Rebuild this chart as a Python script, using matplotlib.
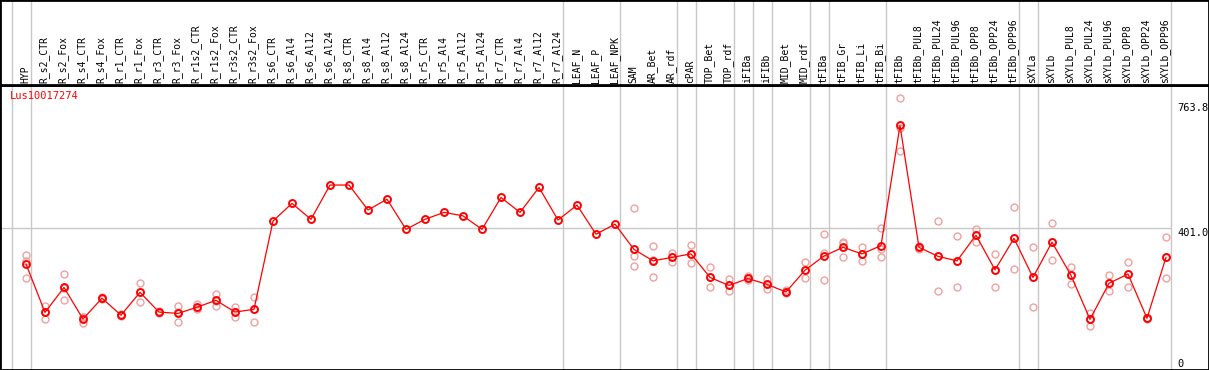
import numpy as np
import matplotlib
matplotlib.use("Agg")
import matplotlib.pyplot as plt

nan = np.nan

samples = ["HYP", "R_s2_CTR", "R_s2_Fox", "R_s4_CTR", "R_s4_Fox", "R_r1_CTR", "R_r1_Fox",
           "R_r3_CTR", "R_r3_Fox", "R_r1s2_CTR", "R_r1s2_Fox", "R_r3s2_CTR", "R_r3s2_Fox",
           "R_s6_CTR", "R_s6_Al4", "R_s6_Al12", "R_s6_Al24", "R_s8_CTR", "R_s8_Al4",
           "R_s8_Al12", "R_s8_Al24", "R_r5_CTR", "R_r5_Al4", "R_r5_Al12", "R_r5_Al24",
           "R_r7_CTR", "R_r7_Al4", "R_r7_Al12", "R_r7_Al24", "LEAF_N", "LEAF_P", "LEAF_NPK",
           "SAM", "AR_Bet", "AR_rdf", "cPAR", "TOP_Bet", "TOP_rdf", "iFIBa", "iFIBb",
           "MID_Bet", "MID_rdf", "tFIBa", "tFIB_Gr", "tFIB_Li", "tFIB_Bi", "tFIBb",
           "tFIBb_PUL8", "tFIBb_PUL24", "tFIBb_PUL96", "tFIBb_OPP8", "tFIBb_OPP24",
           "tFIBb_OPP96", "sXYLa", "sXYLb", "sXYLb_PUL8", "sXYLb_PUL24", "sXYLb_PUL96",
           "sXYLb_OPP8", "sXYLb_OPP24", "sXYLb_OPP96"]

mean = [298, 158, 230, 139, 199, 150, 216, 159, 155, 173, 193, 159, 167,
        422, 473, 427, 526, 526, 454, 485, 398, 427, 447, 437, 398, 490, 447, 519, 425,
        468, 384, 413,
        340, 307, 317, 327, 259, 236, 256, 239, 217, 280, 321, 346, 327, 351, 698,
        346, 320, 307, 381, 281, 372, 259, 361, 265, 138, 242, 269, 141, 317]

rep_a = [324, 176, 268, 145, 202, 153, 242, 161, 176, 181, 210, 175, 203,
         nan, nan, nan, nan, nan, nan, nan, nan, nan, nan, nan, nan, nan, nan, nan, nan,
         nan, nan, nan,
         461, 350, 331, 353, 288, 255, 263, 255, 223, 304, 384, 362, 346, 401, 777,
         350, 421, 379, 399, 327, 462, 346, 415, 288, 157, 266, 304, 143, 375]
rep_b = [306, 160, 228, 144, 199, 150, 217, 159, 158, 170, 192, 158, 167,
         nan, nan, nan, nan, nan, nan, nan, nan, nan, nan, nan, nan, nan, nan, nan, nan,
         nan, nan, nan,
         321, 310, 317, 326, 259, 236, 256, 239, 217, 280, 329, 358, 327, 340, 692,
         346, 320, 307, 381, 281, 372, 259, 361, 265, 138, 242, 269, 141, 317]
rep_c = [256, 138, 194, 128, 196, 147, 189, 157, 131, 168, 177, 144, 131,
         nan, nan, nan, nan, nan, nan, nan, nan, nan, nan, nan, nan, nan, nan, nan, nan,
         nan, nan, nan,
         292, 259, 305, 300, 232, 220, 252, 226, 213, 256, 252, 317, 307, 317, 624,
         342, 219, 230, 360, 232, 282, 173, 308, 239, 119, 221, 231, 139, 257]

# last sample index of each group
group_ends = [-1, 0, 28, 31, 34, 35, 37, 38, 39, 41, 42, 45, 52, 53, 60]
ref_ticks = [763.8, 401.0, 0]
gene = "Lus10017274"

W, H = 1209, 370
fig = plt.figure(figsize=(W / 100, H / 100), dpi=100)
xlim = (-26 / 19, -26 / 19 + W / 19)
ylim = (401 - 141.7 * 2.889, 401 + 143.3 * 2.889)

ax = fig.add_axes([0, 0, 1, (H - 85) / H])
head = fig.add_axes([0, (H - 85) / H, 1, 85 / H])
for a in (ax, head):
    a.set_xlim(*xlim)
    a.set_xticks([])
    a.set_yticks([])
    for s in a.spines.values():
        s.set_color("black")
        s.set_linewidth(2)
    for b in group_ends:
        a.axvline(b + 0.24, color="#c8c8c8", lw=1, zorder=0)
ax.set_ylim(*ylim)
head.set_ylim(0, 1)

x = np.arange(len(samples))
ax.plot([xlim[0], group_ends[-1] + 0.24], [401.0, 401.0], color="#c8c8c8", lw=1, zorder=0)

for r in (rep_a, rep_b, rep_c):
    ax.plot(x, r, ls="none", marker="o", ms=5, mfc="none", mec="#f0a0a0", mew=1.0, zorder=2)
ax.plot(x, mean, color="red", lw=0.9, marker="o", ms=5, mfc="none", mec="red", mew=1.4, zorder=3)

for i, name in enumerate(samples):
    head.text(i - 0.05, 2 / 85, name, rotation=90, ha="center", va="bottom",
              family="DejaVu Sans Mono", fontsize=7)

fig.text(10 / W, 1 - 91 / H, gene, color="red", family="DejaVu Sans Mono", fontsize=7.5,
         va="top", ha="left")

for v in ref_ticks:
    if v == 0:
        ax.text(60.6, ylim[0] + 4, "0", va="bottom", ha="left",
                family="DejaVu Sans Mono", fontsize=7.5)
    else:
        ax.text(60.6, v, "%.1f" % v, va="top", ha="left",
                family="DejaVu Sans Mono", fontsize=7.5)

fig.savefig("out.png", dpi=100)
